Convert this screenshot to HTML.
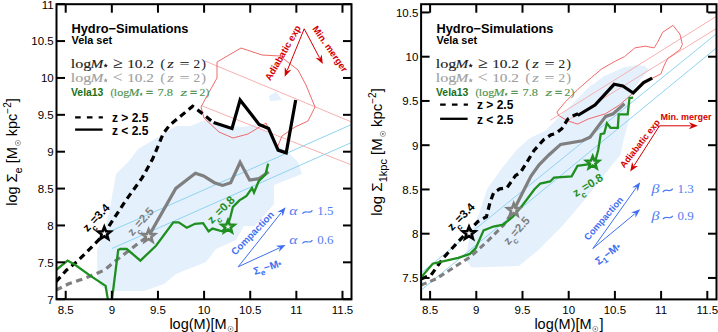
<!DOCTYPE html><html><head><meta charset="utf-8"><style>html,body{margin:0;padding:0;background:#fff;width:718px;height:332px;overflow:hidden}svg{display:block}</style></head><body><svg width="718" height="332" viewBox="0 0 718 332">
<rect width="718" height="332" fill="#fff"/>
<defs><clipPath id="cl"><rect x="56.5" y="4.2" width="295.0" height="295.1"/></clipPath><clipPath id="cr"><rect x="421.1" y="4.2" width="295.4" height="295.2"/></clipPath></defs>
<g clip-path="url(#cl)">
<polygon points="97.1,251.0 101.4,238.4 106.0,225.0 110.0,208.0 116.0,174.0 129.0,161.0 138.0,149.0 155.0,139.0 176.0,126.0 190.0,126.0 206.0,120.0 225.0,126.0 244.0,127.0 255.0,124.0 260.0,127.0 271.0,135.0 279.0,146.0 290.0,154.0 298.0,162.0 302.0,174.0 274.0,185.0 274.0,204.0 255.0,226.0 244.0,226.0 236.0,240.0 216.0,249.0 206.0,262.0 186.0,270.0 176.0,274.0 164.0,284.0 144.0,291.0 121.0,291.0 108.7,291.2 99.2,284.9 97.1,272.2" fill="#e4f0fc" stroke="none" stroke-width="1" />
<polygon points="269.0,96.0 276.0,92.0 282.0,100.0 270.0,101.0" fill="#e4f0fc" stroke="none" stroke-width="1" />
<line x1="205" y1="61" x2="352" y2="122.2" stroke="#f7b0b0" stroke-width="1"/>
<line x1="201" y1="105.5" x2="352" y2="165.2" stroke="#f7b0b0" stroke-width="1"/>
<line x1="111" y1="231" x2="352" y2="124.3" stroke="#8fd3f0" stroke-width="1"/>
<line x1="112" y1="248.5" x2="352" y2="142.3" stroke="#8fd3f0" stroke-width="1"/>
<polygon points="217.0,62.0 241.0,48.0 262.0,55.0 280.0,56.0 298.0,70.0 306.0,85.0 315.0,107.0 308.0,121.0 295.0,127.0 282.0,136.0 277.0,148.0 266.0,123.0 248.0,134.0 233.0,138.0 219.0,132.0 204.0,118.0 201.0,107.0 208.0,94.0 217.0,78.0" fill="none" stroke="#f06a6a" stroke-width="1" />
<polyline points="56.0,281.7 66.5,270.1 77.1,261.6 87.6,251.1 98.2,240.5 104.5,233.0 125.3,201.1 142.1,177.9 152.6,159.0 163.2,133.7 169.5,125.3 192.6,106.3 201.1,112.6 213.6,122.6" fill="none" stroke="#000" stroke-width="3.2" stroke-linejoin="miter" stroke-miterlimit="3" stroke-dasharray="6.5,4.5" />
<polyline points="213.6,122.6 232.0,128.5 240.1,100.0 259.1,124.4 268.6,128.5 278.1,150.1 286.2,152.8 295.7,100.0" fill="none" stroke="#000" stroke-width="3.2" stroke-linejoin="miter" stroke-miterlimit="3" />
<polyline points="56.0,290.1 68.7,283.8 81.3,279.6 91.9,275.4 104.5,270.1 117.2,259.5 129.8,250.0 140.4,241.6 148.6,236.2" fill="none" stroke="#7f7f7f" stroke-width="3.2" stroke-linejoin="miter" stroke-miterlimit="3" stroke-dasharray="6.5,4.5" />
<polyline points="148.6,236.2 175.8,188.4 195.4,173.2 203.6,175.9 214.4,182.7 222.5,185.4 230.7,182.7 240.1,162.3 249.6,180.0 259.1,178.6 268.6,171.8" fill="none" stroke="#7f7f7f" stroke-width="3.2" stroke-linejoin="miter" stroke-miterlimit="3" />
<polyline points="56.0,270.1 67.6,260.6 75.0,264.8 89.8,275.4 105.6,285.9 110.0,312.0 111.9,300.0 118.2,250.0 120.3,249.0 126.7,249.0 140.4,260.6 156.0,245.8 173.3,222.4 178.7,222.4 186.8,227.8 195.0,223.8 203.1,223.2 208.6,231.3 212.6,228.6 222.1,231.3 227.5,225.9 230.2,217.8 232.9,206.9 239.7,200.1 242.5,198.5 246.5,196.0 252.0,188.0 254.0,192.5 258.7,181.2 265.5,174.4 268.2,163.6" fill="none" stroke="#1f8f1f" stroke-width="2.3" stroke-linejoin="miter" stroke-miterlimit="3" />
<polygon points="104.3,226.9 106.0,231.2 110.6,231.5 107.0,234.4 108.2,238.8 104.3,236.3 100.4,238.8 101.6,234.4 98.0,231.5 102.6,231.2" fill="white" stroke="#000" stroke-width="2.6" stroke-linejoin="miter" stroke-miterlimit="10"/>
<polygon points="148.6,229.6 150.3,233.9 154.9,234.2 151.3,237.1 152.5,241.5 148.6,239.0 144.7,241.5 145.9,237.1 142.3,234.2 146.9,233.9" fill="#eee" stroke="#7f7f7f" stroke-width="2.6" stroke-linejoin="miter" stroke-miterlimit="10"/>
<polygon points="228.0,220.2 229.7,224.5 234.3,224.8 230.7,227.7 231.9,232.1 228.0,229.6 224.1,232.1 225.3,227.7 221.7,224.8 226.3,224.5" fill="#eef" stroke="#1f8f1f" stroke-width="2.6" stroke-linejoin="miter" stroke-miterlimit="10"/>
</g>
<text x="71.5" y="32.6" font-family="Liberation Sans" font-size="12.8" fill="#000" font-weight="bold" font-style="normal" text-anchor="start" >Hydro&#8722;Simulations</text>
<text x="71.5" y="43.9" font-family="Liberation Sans" font-size="10.9" fill="#000" font-weight="bold" font-style="normal" text-anchor="start" >Vela set</text>
<text x="70.8" y="67.5" font-family="Liberation Serif" font-size="13.2" fill="#222" font-style="normal" font-weight="normal" textLength="20.6" lengthAdjust="spacingAndGlyphs" stroke="#222" stroke-width="0.12">log</text>
<text x="90.6" y="67.5" font-family="Liberation Serif" font-size="13.2" fill="#222" font-style="italic" font-weight="normal" textLength="12.8" lengthAdjust="spacingAndGlyphs" stroke="#222" stroke-width="0.12">M</text>
<polygon points="105.7,63.3 106.3,64.8 108.0,65.0 106.7,66.0 107.1,67.6 105.7,66.8 104.3,67.6 104.7,66.0 103.4,65.0 105.1,64.8" fill="#222" stroke="none" stroke-width="1" />
<text x="112.8" y="67.5" font-family="Liberation Serif" font-size="15.179999999999998" fill="#222" font-style="normal" font-weight="normal" textLength="9.8" lengthAdjust="spacingAndGlyphs" stroke="#222" stroke-width="0.072">&#8805;</text>
<text x="127.2" y="67.5" font-family="Liberation Serif" font-size="13.2" fill="#222" font-style="normal" font-weight="normal" textLength="26.8" lengthAdjust="spacingAndGlyphs" stroke="#222" stroke-width="0.12">10.2</text>
<text x="160.6" y="67.5" font-family="Liberation Serif" font-size="13.2" fill="#222" font-style="normal" font-weight="normal" stroke="#222" stroke-width="0.12">(</text>
<text x="167.2" y="67.5" font-family="Liberation Serif" font-size="13.2" fill="#222" font-style="italic" font-weight="normal" textLength="6.6" lengthAdjust="spacingAndGlyphs" stroke="#222" stroke-width="0.12">z</text>
<text x="179.6" y="67.5" font-family="Liberation Serif" font-size="13.2" fill="#222" font-style="normal" font-weight="normal" textLength="10.0" lengthAdjust="spacingAndGlyphs" stroke="#222" stroke-width="0.12">=</text>
<text x="193.4" y="67.5" font-family="Liberation Serif" font-size="13.2" fill="#222" font-style="normal" font-weight="normal" textLength="6.6" lengthAdjust="spacingAndGlyphs" stroke="#222" stroke-width="0.12">2</text>
<text x="201.4" y="67.5" font-family="Liberation Serif" font-size="13.2" fill="#222" font-style="normal" font-weight="normal" stroke="#222" stroke-width="0.12">)</text>
<text x="70.8" y="82.3" font-family="Liberation Serif" font-size="13.2" fill="#a0a0a0" font-style="normal" font-weight="normal" textLength="20.6" lengthAdjust="spacingAndGlyphs" stroke="#a0a0a0" stroke-width="0.12">log</text>
<text x="90.6" y="82.3" font-family="Liberation Serif" font-size="13.2" fill="#a0a0a0" font-style="italic" font-weight="normal" textLength="12.8" lengthAdjust="spacingAndGlyphs" stroke="#a0a0a0" stroke-width="0.12">M</text>
<polygon points="105.7,78.1 106.3,79.6 108.0,79.8 106.7,80.8 107.1,82.4 105.7,81.6 104.3,82.4 104.7,80.8 103.4,79.8 105.1,79.6" fill="#a0a0a0" stroke="none" stroke-width="1" />
<text x="112.8" y="82.3" font-family="Liberation Serif" font-size="15.179999999999998" fill="#a0a0a0" font-style="normal" font-weight="normal" textLength="9.8" lengthAdjust="spacingAndGlyphs" stroke="#a0a0a0" stroke-width="0.072">&lt;</text>
<text x="127.2" y="82.3" font-family="Liberation Serif" font-size="13.2" fill="#a0a0a0" font-style="normal" font-weight="normal" textLength="26.8" lengthAdjust="spacingAndGlyphs" stroke="#a0a0a0" stroke-width="0.12">10.2</text>
<text x="160.6" y="82.3" font-family="Liberation Serif" font-size="13.2" fill="#a0a0a0" font-style="normal" font-weight="normal" stroke="#a0a0a0" stroke-width="0.12">(</text>
<text x="167.2" y="82.3" font-family="Liberation Serif" font-size="13.2" fill="#a0a0a0" font-style="italic" font-weight="normal" textLength="6.6" lengthAdjust="spacingAndGlyphs" stroke="#a0a0a0" stroke-width="0.12">z</text>
<text x="179.6" y="82.3" font-family="Liberation Serif" font-size="13.2" fill="#a0a0a0" font-style="normal" font-weight="normal" textLength="10.0" lengthAdjust="spacingAndGlyphs" stroke="#a0a0a0" stroke-width="0.12">=</text>
<text x="193.4" y="82.3" font-family="Liberation Serif" font-size="13.2" fill="#a0a0a0" font-style="normal" font-weight="normal" textLength="6.6" lengthAdjust="spacingAndGlyphs" stroke="#a0a0a0" stroke-width="0.12">2</text>
<text x="201.4" y="82.3" font-family="Liberation Serif" font-size="13.2" fill="#a0a0a0" font-style="normal" font-weight="normal" stroke="#a0a0a0" stroke-width="0.12">)</text>
<text x="71.0" y="95.9" font-family="Liberation Sans" font-size="10.4" fill="#1a701a" font-style="normal" font-weight="bold">Vela13</text>
<text x="110.6" y="95.9" font-family="Liberation Serif" font-size="10.6" fill="#4f934f" font-style="normal" font-weight="normal" stroke="#4f934f" stroke-width="0.15">(</text>
<text x="113.8" y="95.9" font-family="Liberation Serif" font-size="10.6" fill="#4f934f" font-style="normal" font-weight="normal" textLength="15.4" lengthAdjust="spacingAndGlyphs" stroke="#4f934f" stroke-width="0.15">log</text>
<text x="128.4" y="95.9" font-family="Liberation Serif" font-size="10.6" fill="#4f934f" font-style="italic" font-weight="normal" textLength="11.0" lengthAdjust="spacingAndGlyphs" stroke="#4f934f" stroke-width="0.15">M</text>
<polygon points="141.2,92.4 141.7,93.6 143.0,93.7 142.0,94.6 142.3,95.8 141.2,95.2 140.1,95.8 140.4,94.6 139.4,93.7 140.7,93.6" fill="#4f934f" stroke="none" stroke-width="1" />
<text x="146.0" y="95.9" font-family="Liberation Serif" font-size="10.6" fill="#4f934f" font-style="normal" font-weight="normal" textLength="7.0" lengthAdjust="spacingAndGlyphs" stroke="#4f934f" stroke-width="0.6">=</text>
<text x="157.6" y="95.9" font-family="Liberation Serif" font-size="10.6" fill="#4f934f" font-style="normal" font-weight="normal" textLength="15.4" lengthAdjust="spacingAndGlyphs" stroke="#4f934f" stroke-width="0.15">7.8</text>
<text x="180.6" y="95.9" font-family="Liberation Serif" font-size="10.6" fill="#4f934f" font-style="italic" font-weight="normal" textLength="6.8" lengthAdjust="spacingAndGlyphs" stroke="#4f934f" stroke-width="0.15">z</text>
<text x="189.9" y="95.9" font-family="Liberation Serif" font-size="10.6" fill="#4f934f" font-style="normal" font-weight="normal" textLength="7.0" lengthAdjust="spacingAndGlyphs" stroke="#4f934f" stroke-width="0.6">=</text>
<text x="199.4" y="95.9" font-family="Liberation Serif" font-size="10.6" fill="#4f934f" font-style="normal" font-weight="normal" textLength="5.8" lengthAdjust="spacingAndGlyphs" stroke="#4f934f" stroke-width="0.15">2</text>
<text x="205.8" y="95.9" font-family="Liberation Serif" font-size="10.6" fill="#4f934f" font-style="normal" font-weight="normal" stroke="#4f934f" stroke-width="0.15">)</text>
<line x1="75.1" y1="117.4" x2="102.9" y2="117.4" stroke="#000" stroke-width="2.3" stroke-dasharray="5.6,6.2"/>
<line x1="75.1" y1="129.6" x2="102.6" y2="129.6" stroke="#000" stroke-width="2.3"/>
<text x="112" y="122.2" font-family="Liberation Sans" font-size="12" fill="#000" font-weight="bold" font-style="normal" text-anchor="start" >z &gt; 2.5</text>
<text x="112" y="134.5" font-family="Liberation Sans" font-size="12" fill="#000" font-weight="bold" font-style="normal" text-anchor="start" >z &lt; 2.5</text>
<line x1="304.2" y1="28.8" x2="287.3" y2="70.3" stroke="#d40000" stroke-width="1"/>
<polygon points="284.7,76.8 284.8,67.1 287.1,71.0 291.3,69.8" fill="#d40000" stroke="none" stroke-width="1" />
<line x1="304.2" y1="28.8" x2="319.5" y2="57.8" stroke="#d40000" stroke-width="1"/>
<polygon points="322.8,64.0 315.5,57.7 319.9,58.4 321.7,54.4" fill="#d40000" stroke="none" stroke-width="1" />
<text x="285.8" y="54.5" font-family="Liberation Sans" font-size="9.5" fill="#d40000" font-weight="bold" font-style="normal" text-anchor="middle" transform="rotate(-60 285.8 54.5)" >Adiabatic exp</text>
<text x="327.5" y="50.8" font-family="Liberation Sans" font-size="9.5" fill="#d40000" font-weight="bold" font-style="normal" text-anchor="middle" transform="rotate(55 327.5 50.8)" >Min. merger</text>
<line x1="238.2" y1="266.8" x2="279.2" y2="248.0" stroke="#3f6ff0" stroke-width="1"/>
<polygon points="285.6,245.1 278.9,252.0 279.9,247.7 276.0,245.7" fill="#3f6ff0" stroke="none" stroke-width="1" />
<line x1="238.2" y1="266.8" x2="281.2" y2="212.7" stroke="#3f6ff0" stroke-width="1"/>
<polygon points="285.6,207.2 282.7,216.4 281.7,212.1 277.3,212.1" fill="#3f6ff0" stroke="none" stroke-width="1" />
<text x="289.2" y="214.5" font-family="Liberation Serif" font-size="13.5" fill="#4f7cf2" font-style="normal" font-weight="normal" textLength="8.2" lengthAdjust="spacingAndGlyphs"><tspan font-style="italic">&#945;</tspan></text>
<path d="M302.4,213.7 C305.73,208.60 309.07,215.40 312.4,210.3" fill="none" stroke="#4f7cf2" stroke-width="1.2"/>
<text x="317.2" y="214.5" font-family="Liberation Serif" font-size="13" fill="#4f7cf2" font-style="normal" font-weight="normal" textLength="16.2" lengthAdjust="spacingAndGlyphs">1.5</text>
<text x="289.2" y="244.3" font-family="Liberation Serif" font-size="13.5" fill="#4f7cf2" font-style="normal" font-weight="normal" textLength="8.2" lengthAdjust="spacingAndGlyphs"><tspan font-style="italic">&#945;</tspan></text>
<path d="M302.4,243.5 C305.73,238.40 309.07,245.20 312.4,240.10000000000002" fill="none" stroke="#4f7cf2" stroke-width="1.2"/>
<text x="317.2" y="244.3" font-family="Liberation Serif" font-size="13" fill="#4f7cf2" font-style="normal" font-weight="normal" textLength="16.2" lengthAdjust="spacingAndGlyphs">0.6</text>
<text x="255" y="235.5" font-family="Liberation Sans" font-size="9.8" fill="#3f6ff0" font-weight="bold" font-style="normal" text-anchor="middle" transform="rotate(-46 255 235.5)" >Compaction</text>
<text x="268.5" y="270.5" font-family="Liberation Sans" font-size="10.5" fill="#3f6ff0" font-weight="bold" font-style="normal" text-anchor="middle" transform="rotate(-18 268.5 270.5)" >&#931;<tspan font-size="8" dy="3">e</tspan><tspan dy="-3">&#8722;M</tspan><tspan font-size="8" dy="1">*</tspan></text>
<g transform="translate(87.4,232.3) rotate(-46)"><text x="0" y="0" font-family="Liberation Sans" font-size="11.5" font-weight="bold" fill="#000">z<tspan font-size="8.5" dy="5">c</tspan><tspan dy="-5">=3.4</tspan></text></g>
<g transform="translate(132.4,236.4) rotate(-48)"><text x="0" y="0" font-family="Liberation Sans" font-size="11.5" font-weight="bold" fill="#7f7f7f">z<tspan font-size="8.5" dy="5">c</tspan><tspan dy="-5">=2.5</tspan></text></g>
<g transform="translate(212,224.2) rotate(-45)"><text x="0" y="0" font-family="Liberation Sans" font-size="11.5" font-weight="bold" fill="#1f8f1f">z<tspan font-size="8.5" dy="5">c</tspan><tspan dy="-5">=0.8</tspan></text></g>
<g clip-path="url(#cr)">
<polygon points="545.0,131.0 561.0,115.0 575.0,101.5 588.0,88.0 604.6,75.7 623.6,67.6 637.0,65.0 645.0,66.0 649.0,70.0 640.0,80.0 630.0,95.0 629.0,104.0 629.0,120.0 623.6,140.0 620.5,154.7 612.0,165.0 601.0,179.6 585.3,199.1 561.8,226.5 538.4,250.0 518.8,266.0 471.5,267.4 465.6,259.5 469.6,236.1 479.3,212.6 487.2,189.1 500.9,169.6 516.5,150.0 530.0,138.0" fill="#e4f0fc" stroke="none" stroke-width="1" />
<line x1="550.2" y1="120.3" x2="718" y2="15.3" stroke="#f7b0b0" stroke-width="1"/>
<line x1="568.9" y1="119.7" x2="718" y2="27.5" stroke="#f7b0b0" stroke-width="1"/>
<line x1="421" y1="273.1" x2="718" y2="32.5" stroke="#8fd3f0" stroke-width="1"/>
<line x1="421" y1="290.2" x2="718" y2="46.6" stroke="#8fd3f0" stroke-width="1"/>
<polygon points="556.9,112.0 565.6,101.6 577.7,89.5 591.6,77.4 602.0,68.7 614.1,61.8 624.5,56.6 634.9,47.9 645.3,46.2 654.0,47.9 657.4,42.7 662.6,32.3 673.0,25.4 679.9,34.1 682.4,44.5 679.9,49.7 673.0,54.8 667.8,58.3 664.3,65.2 660.9,73.9 654.0,77.4 650.5,79.1 643.6,82.6 633.2,93.0 619.3,105.1 605.4,113.8 588.1,119.0 577.7,124.1 567.3,120.7 558.7,115.5" fill="none" stroke="#f06a6a" stroke-width="1" />
<polyline points="421.0,278.9 431.0,275.1 443.6,257.6 458.6,241.3 467.2,232.3 478.1,221.4 486.5,216.6 490.1,202.2 493.7,192.5 499.8,188.9 507.0,187.7 515.4,175.7 520.8,172.1 534.1,150.4 543.7,139.6 551.0,134.8 555.8,133.6 561.8,128.7 567.8,119.1 573.9,115.5 578.1,113.8" fill="none" stroke="#000" stroke-width="3.2" stroke-linejoin="miter" stroke-miterlimit="3" stroke-dasharray="6.5,4.5" />
<polyline points="577.7,115.5 595.0,105.1 614.1,84.3 622.8,86.0 633.2,93.0 643.6,82.6 652.2,78.1" fill="none" stroke="#000" stroke-width="3.2" stroke-linejoin="miter" stroke-miterlimit="3" />
<polyline points="421.0,285.2 436.0,278.9 453.6,267.6 471.1,256.3 488.7,240.0 503.7,225.0 513.7,210.2" fill="none" stroke="#7f7f7f" stroke-width="3" stroke-linejoin="miter" stroke-miterlimit="3" stroke-dasharray="6,4" />
<polyline points="513.7,210.2 531.0,176.1 538.9,165.0 548.6,155.2 560.6,144.4 582.3,140.8 590.0,137.2 605.7,116.4 613.2,113.8 624.5,103.8" fill="none" stroke="#7f7f7f" stroke-width="3.2" stroke-linejoin="miter" stroke-miterlimit="3" />
<polyline points="421.0,277.4 432.7,263.7 458.2,257.8 469.9,253.9 475.8,248.0 483.6,230.4 493.4,226.5 503.2,224.6 512.9,216.7 522.7,205.0 534.5,189.3 540.3,183.5 550.1,181.5 554.0,177.6 571.6,176.4 577.5,165.9 591.2,163.9 592.7,163.3 595.6,160.0 598.2,150.0 600.7,134.2 604.2,133.3 606.9,123.3 610.5,127.8 617.8,127.8 618.7,114.3 627.7,114.3 629.5,98.0 633.1,97.7" fill="none" stroke="#1f8f1f" stroke-width="2.3" stroke-linejoin="miter" stroke-miterlimit="3" />
<polygon points="469.0,226.7 470.7,231.0 475.3,231.3 471.7,234.2 472.9,238.6 469.0,236.1 465.1,238.6 466.3,234.2 462.7,231.3 467.3,231.0" fill="white" stroke="#000" stroke-width="2.6" stroke-linejoin="miter" stroke-miterlimit="10"/>
<polygon points="513.7,203.6 515.4,207.9 520.0,208.2 516.4,211.1 517.6,215.5 513.7,213.0 509.8,215.5 511.0,211.1 507.4,208.2 512.0,207.9" fill="#eee" stroke="#7f7f7f" stroke-width="2.6" stroke-linejoin="miter" stroke-miterlimit="10"/>
<polygon points="592.7,156.2 594.4,160.5 599.0,160.8 595.4,163.7 596.6,168.1 592.7,165.6 588.8,168.1 590.0,163.7 586.4,160.8 591.0,160.5" fill="#eef" stroke="#1f8f1f" stroke-width="2.6" stroke-linejoin="miter" stroke-miterlimit="10"/>
</g>
<text x="436.5" y="32.6" font-family="Liberation Sans" font-size="12.8" fill="#000" font-weight="bold" font-style="normal" text-anchor="start" >Hydro&#8722;Simulations</text>
<text x="436.5" y="43.9" font-family="Liberation Sans" font-size="10.9" fill="#000" font-weight="bold" font-style="normal" text-anchor="start" >Vela set</text>
<text x="435.8" y="67.5" font-family="Liberation Serif" font-size="13.2" fill="#222" font-style="normal" font-weight="normal" textLength="20.6" lengthAdjust="spacingAndGlyphs" stroke="#222" stroke-width="0.12">log</text>
<text x="455.6" y="67.5" font-family="Liberation Serif" font-size="13.2" fill="#222" font-style="italic" font-weight="normal" textLength="12.8" lengthAdjust="spacingAndGlyphs" stroke="#222" stroke-width="0.12">M</text>
<polygon points="470.7,63.3 471.3,64.8 473.0,65.0 471.7,66.0 472.1,67.6 470.7,66.8 469.3,67.6 469.7,66.0 468.4,65.0 470.1,64.8" fill="#222" stroke="none" stroke-width="1" />
<text x="477.8" y="67.5" font-family="Liberation Serif" font-size="15.179999999999998" fill="#222" font-style="normal" font-weight="normal" textLength="9.8" lengthAdjust="spacingAndGlyphs" stroke="#222" stroke-width="0.072">&#8805;</text>
<text x="492.2" y="67.5" font-family="Liberation Serif" font-size="13.2" fill="#222" font-style="normal" font-weight="normal" textLength="26.8" lengthAdjust="spacingAndGlyphs" stroke="#222" stroke-width="0.12">10.2</text>
<text x="525.6" y="67.5" font-family="Liberation Serif" font-size="13.2" fill="#222" font-style="normal" font-weight="normal" stroke="#222" stroke-width="0.12">(</text>
<text x="532.2" y="67.5" font-family="Liberation Serif" font-size="13.2" fill="#222" font-style="italic" font-weight="normal" textLength="6.6" lengthAdjust="spacingAndGlyphs" stroke="#222" stroke-width="0.12">z</text>
<text x="544.6" y="67.5" font-family="Liberation Serif" font-size="13.2" fill="#222" font-style="normal" font-weight="normal" textLength="10.0" lengthAdjust="spacingAndGlyphs" stroke="#222" stroke-width="0.12">=</text>
<text x="558.4" y="67.5" font-family="Liberation Serif" font-size="13.2" fill="#222" font-style="normal" font-weight="normal" textLength="6.6" lengthAdjust="spacingAndGlyphs" stroke="#222" stroke-width="0.12">2</text>
<text x="566.4" y="67.5" font-family="Liberation Serif" font-size="13.2" fill="#222" font-style="normal" font-weight="normal" stroke="#222" stroke-width="0.12">)</text>
<text x="435.8" y="82.3" font-family="Liberation Serif" font-size="13.2" fill="#a0a0a0" font-style="normal" font-weight="normal" textLength="20.6" lengthAdjust="spacingAndGlyphs" stroke="#a0a0a0" stroke-width="0.12">log</text>
<text x="455.6" y="82.3" font-family="Liberation Serif" font-size="13.2" fill="#a0a0a0" font-style="italic" font-weight="normal" textLength="12.8" lengthAdjust="spacingAndGlyphs" stroke="#a0a0a0" stroke-width="0.12">M</text>
<polygon points="470.7,78.1 471.3,79.6 473.0,79.8 471.7,80.8 472.1,82.4 470.7,81.6 469.3,82.4 469.7,80.8 468.4,79.8 470.1,79.6" fill="#a0a0a0" stroke="none" stroke-width="1" />
<text x="477.8" y="82.3" font-family="Liberation Serif" font-size="15.179999999999998" fill="#a0a0a0" font-style="normal" font-weight="normal" textLength="9.8" lengthAdjust="spacingAndGlyphs" stroke="#a0a0a0" stroke-width="0.072">&lt;</text>
<text x="492.2" y="82.3" font-family="Liberation Serif" font-size="13.2" fill="#a0a0a0" font-style="normal" font-weight="normal" textLength="26.8" lengthAdjust="spacingAndGlyphs" stroke="#a0a0a0" stroke-width="0.12">10.2</text>
<text x="525.6" y="82.3" font-family="Liberation Serif" font-size="13.2" fill="#a0a0a0" font-style="normal" font-weight="normal" stroke="#a0a0a0" stroke-width="0.12">(</text>
<text x="532.2" y="82.3" font-family="Liberation Serif" font-size="13.2" fill="#a0a0a0" font-style="italic" font-weight="normal" textLength="6.6" lengthAdjust="spacingAndGlyphs" stroke="#a0a0a0" stroke-width="0.12">z</text>
<text x="544.6" y="82.3" font-family="Liberation Serif" font-size="13.2" fill="#a0a0a0" font-style="normal" font-weight="normal" textLength="10.0" lengthAdjust="spacingAndGlyphs" stroke="#a0a0a0" stroke-width="0.12">=</text>
<text x="558.4" y="82.3" font-family="Liberation Serif" font-size="13.2" fill="#a0a0a0" font-style="normal" font-weight="normal" textLength="6.6" lengthAdjust="spacingAndGlyphs" stroke="#a0a0a0" stroke-width="0.12">2</text>
<text x="566.4" y="82.3" font-family="Liberation Serif" font-size="13.2" fill="#a0a0a0" font-style="normal" font-weight="normal" stroke="#a0a0a0" stroke-width="0.12">)</text>
<text x="436.0" y="95.9" font-family="Liberation Sans" font-size="10.4" fill="#1a701a" font-style="normal" font-weight="bold">Vela13</text>
<text x="475.6" y="95.9" font-family="Liberation Serif" font-size="10.6" fill="#4f934f" font-style="normal" font-weight="normal" stroke="#4f934f" stroke-width="0.15">(</text>
<text x="478.8" y="95.9" font-family="Liberation Serif" font-size="10.6" fill="#4f934f" font-style="normal" font-weight="normal" textLength="15.4" lengthAdjust="spacingAndGlyphs" stroke="#4f934f" stroke-width="0.15">log</text>
<text x="493.4" y="95.9" font-family="Liberation Serif" font-size="10.6" fill="#4f934f" font-style="italic" font-weight="normal" textLength="11.0" lengthAdjust="spacingAndGlyphs" stroke="#4f934f" stroke-width="0.15">M</text>
<polygon points="506.2,92.4 506.7,93.6 508.0,93.7 507.0,94.6 507.3,95.8 506.2,95.2 505.1,95.8 505.4,94.6 504.4,93.7 505.7,93.6" fill="#4f934f" stroke="none" stroke-width="1" />
<text x="511.0" y="95.9" font-family="Liberation Serif" font-size="10.6" fill="#4f934f" font-style="normal" font-weight="normal" textLength="7.0" lengthAdjust="spacingAndGlyphs" stroke="#4f934f" stroke-width="0.6">=</text>
<text x="522.6" y="95.9" font-family="Liberation Serif" font-size="10.6" fill="#4f934f" font-style="normal" font-weight="normal" textLength="15.4" lengthAdjust="spacingAndGlyphs" stroke="#4f934f" stroke-width="0.15">7.8</text>
<text x="545.6" y="95.9" font-family="Liberation Serif" font-size="10.6" fill="#4f934f" font-style="italic" font-weight="normal" textLength="6.8" lengthAdjust="spacingAndGlyphs" stroke="#4f934f" stroke-width="0.15">z</text>
<text x="554.9" y="95.9" font-family="Liberation Serif" font-size="10.6" fill="#4f934f" font-style="normal" font-weight="normal" textLength="7.0" lengthAdjust="spacingAndGlyphs" stroke="#4f934f" stroke-width="0.6">=</text>
<text x="564.4" y="95.9" font-family="Liberation Serif" font-size="10.6" fill="#4f934f" font-style="normal" font-weight="normal" textLength="5.8" lengthAdjust="spacingAndGlyphs" stroke="#4f934f" stroke-width="0.15">2</text>
<text x="570.8" y="95.9" font-family="Liberation Serif" font-size="10.6" fill="#4f934f" font-style="normal" font-weight="normal" stroke="#4f934f" stroke-width="0.15">)</text>
<line x1="440.1" y1="104.6" x2="467.9" y2="104.6" stroke="#000" stroke-width="2.3" stroke-dasharray="5.6,6.2"/>
<line x1="440.1" y1="118.8" x2="467.6" y2="118.8" stroke="#000" stroke-width="2.3"/>
<text x="477" y="109.4" font-family="Liberation Sans" font-size="12" fill="#000" font-weight="bold" font-style="normal" text-anchor="start" >z &gt; 2.5</text>
<text x="477" y="123.6" font-family="Liberation Sans" font-size="12" fill="#000" font-weight="bold" font-style="normal" text-anchor="start" >z &lt; 2.5</text>
<line x1="659.5" y1="125.8" x2="690.9" y2="125.8" stroke="#d40000" stroke-width="1"/>
<polygon points="697.9,125.8 688.9,129.3 691.6,125.8 688.9,122.3" fill="#d40000" stroke="none" stroke-width="1" />
<line x1="659.5" y1="125.8" x2="634.0" y2="165.7" stroke="#d40000" stroke-width="1"/>
<polygon points="630.2,171.6 632.1,162.1 633.6,166.3 638.0,165.9" fill="#d40000" stroke="none" stroke-width="1" />
<text x="660.6" y="119.7" font-family="Liberation Sans" font-size="9" fill="#d40000" font-weight="bold" font-style="normal" text-anchor="start" >Min. merger</text>
<text x="642.4" y="145.4" font-family="Liberation Sans" font-size="9" fill="#d40000" font-weight="bold" font-style="normal" text-anchor="middle" transform="rotate(-52 642.4 145.4)" >Adiabatic exp</text>
<line x1="592.8" y1="248.6" x2="636.1" y2="187.9" stroke="#3f6ff0" stroke-width="1"/>
<polygon points="640.2,182.2 637.8,191.6 636.5,187.3 632.1,187.5" fill="#3f6ff0" stroke="none" stroke-width="1" />
<line x1="592.8" y1="248.6" x2="634.8" y2="213.8" stroke="#3f6ff0" stroke-width="1"/>
<polygon points="640.2,209.3 635.5,217.7 635.4,213.3 631.0,212.4" fill="#3f6ff0" stroke="none" stroke-width="1" />
<text x="651.6" y="193.0" font-family="Liberation Serif" font-size="12.5" fill="#4f7cf2" font-style="normal" font-weight="normal" textLength="8.0" lengthAdjust="spacingAndGlyphs"><tspan font-style="italic">&#946;</tspan></text>
<path d="M662.8,192.1 C666.13,187.00 669.47,193.80 672.8,188.70000000000002" fill="none" stroke="#4f7cf2" stroke-width="1.2"/>
<text x="677.6" y="193.0" font-family="Liberation Serif" font-size="13" fill="#4f7cf2" font-style="normal" font-weight="normal" textLength="16.2" lengthAdjust="spacingAndGlyphs">1.3</text>
<text x="651.6" y="220.1" font-family="Liberation Serif" font-size="12.5" fill="#4f7cf2" font-style="normal" font-weight="normal" textLength="8.0" lengthAdjust="spacingAndGlyphs"><tspan font-style="italic">&#946;</tspan></text>
<path d="M662.8,219.2 C666.13,214.10 669.47,220.90 672.8,215.8" fill="none" stroke="#4f7cf2" stroke-width="1.2"/>
<text x="677.6" y="220.1" font-family="Liberation Serif" font-size="13" fill="#4f7cf2" font-style="normal" font-weight="normal" textLength="16.2" lengthAdjust="spacingAndGlyphs">0.9</text>
<text x="606" y="220.5" font-family="Liberation Sans" font-size="9.4" fill="#3f6ff0" font-weight="bold" font-style="normal" text-anchor="middle" transform="rotate(-49 606 220.5)" >Compaction</text>
<text x="610" y="256.5" font-family="Liberation Sans" font-size="10.5" fill="#3f6ff0" font-weight="bold" font-style="normal" text-anchor="middle" transform="rotate(-37 610 256.5)" >&#931;<tspan font-size="8" dy="3">1</tspan><tspan dy="-3">&#8722;M</tspan><tspan font-size="8" dy="1">*</tspan></text>
<g transform="translate(452.1,231.2) rotate(-45)"><text x="0" y="0" font-family="Liberation Sans" font-size="11.5" font-weight="bold" fill="#000">z<tspan font-size="8.5" dy="5">c</tspan><tspan dy="-5">=3.4</tspan></text></g>
<g transform="translate(508.4,245.6) rotate(-48)"><text x="0" y="0" font-family="Liberation Sans" font-size="11.5" font-weight="bold" fill="#7f7f7f">z<tspan font-size="8.5" dy="5">c</tspan><tspan dy="-5">=2.5</tspan></text></g>
<g transform="translate(575.8,197.3) rotate(-32)"><text x="0" y="0" font-family="Liberation Sans" font-size="11.5" font-weight="bold" fill="#1f8f1f">z<tspan font-size="8.5" dy="5">c</tspan><tspan dy="-5">=0.8</tspan></text></g>
<rect x="56.5" y="4.2" width="295.0" height="295.1" fill="none" stroke="#000" stroke-width="2"/>
<line x1="65.7" y1="299.3" x2="65.7" y2="290.8" stroke="#000" stroke-width="2"/>
<line x1="65.7" y1="4.2" x2="65.7" y2="12.7" stroke="#000" stroke-width="2"/>
<line x1="111.83000000000001" y1="299.3" x2="111.83000000000001" y2="290.8" stroke="#000" stroke-width="2"/>
<line x1="111.83000000000001" y1="4.2" x2="111.83000000000001" y2="12.7" stroke="#000" stroke-width="2"/>
<line x1="157.96" y1="299.3" x2="157.96" y2="290.8" stroke="#000" stroke-width="2"/>
<line x1="157.96" y1="4.2" x2="157.96" y2="12.7" stroke="#000" stroke-width="2"/>
<line x1="204.09000000000003" y1="299.3" x2="204.09000000000003" y2="290.8" stroke="#000" stroke-width="2"/>
<line x1="204.09000000000003" y1="4.2" x2="204.09000000000003" y2="12.7" stroke="#000" stroke-width="2"/>
<line x1="250.22000000000003" y1="299.3" x2="250.22000000000003" y2="290.8" stroke="#000" stroke-width="2"/>
<line x1="250.22000000000003" y1="4.2" x2="250.22000000000003" y2="12.7" stroke="#000" stroke-width="2"/>
<line x1="296.35" y1="299.3" x2="296.35" y2="290.8" stroke="#000" stroke-width="2"/>
<line x1="296.35" y1="4.2" x2="296.35" y2="12.7" stroke="#000" stroke-width="2"/>
<line x1="342.48" y1="299.3" x2="342.48" y2="290.8" stroke="#000" stroke-width="2"/>
<line x1="342.48" y1="4.2" x2="342.48" y2="12.7" stroke="#000" stroke-width="2"/>
<line x1="56.5" y1="299.2" x2="65.0" y2="299.2" stroke="#000" stroke-width="2"/>
<line x1="351.5" y1="299.2" x2="343.0" y2="299.2" stroke="#000" stroke-width="2"/>
<line x1="56.5" y1="262.325" x2="65.0" y2="262.325" stroke="#000" stroke-width="2"/>
<line x1="351.5" y1="262.325" x2="343.0" y2="262.325" stroke="#000" stroke-width="2"/>
<line x1="56.5" y1="225.45" x2="65.0" y2="225.45" stroke="#000" stroke-width="2"/>
<line x1="351.5" y1="225.45" x2="343.0" y2="225.45" stroke="#000" stroke-width="2"/>
<line x1="56.5" y1="188.575" x2="65.0" y2="188.575" stroke="#000" stroke-width="2"/>
<line x1="351.5" y1="188.575" x2="343.0" y2="188.575" stroke="#000" stroke-width="2"/>
<line x1="56.5" y1="151.7" x2="65.0" y2="151.7" stroke="#000" stroke-width="2"/>
<line x1="351.5" y1="151.7" x2="343.0" y2="151.7" stroke="#000" stroke-width="2"/>
<line x1="56.5" y1="114.82499999999999" x2="65.0" y2="114.82499999999999" stroke="#000" stroke-width="2"/>
<line x1="351.5" y1="114.82499999999999" x2="343.0" y2="114.82499999999999" stroke="#000" stroke-width="2"/>
<line x1="56.5" y1="77.94999999999999" x2="65.0" y2="77.94999999999999" stroke="#000" stroke-width="2"/>
<line x1="351.5" y1="77.94999999999999" x2="343.0" y2="77.94999999999999" stroke="#000" stroke-width="2"/>
<line x1="56.5" y1="41.07499999999999" x2="65.0" y2="41.07499999999999" stroke="#000" stroke-width="2"/>
<line x1="351.5" y1="41.07499999999999" x2="343.0" y2="41.07499999999999" stroke="#000" stroke-width="2"/>
<line x1="56.5" y1="4.199999999999989" x2="65.0" y2="4.199999999999989" stroke="#000" stroke-width="2"/>
<line x1="351.5" y1="4.199999999999989" x2="343.0" y2="4.199999999999989" stroke="#000" stroke-width="2"/>
<text x="65.7" y="313.6" font-family="Liberation Sans" font-size="11.5" fill="#000" font-weight="normal" font-style="normal" text-anchor="middle" >8.5</text>
<text x="111.83000000000001" y="313.6" font-family="Liberation Sans" font-size="11.5" fill="#000" font-weight="normal" font-style="normal" text-anchor="middle" >9</text>
<text x="157.96" y="313.6" font-family="Liberation Sans" font-size="11.5" fill="#000" font-weight="normal" font-style="normal" text-anchor="middle" >9.5</text>
<text x="204.09000000000003" y="313.6" font-family="Liberation Sans" font-size="11.5" fill="#000" font-weight="normal" font-style="normal" text-anchor="middle" >10</text>
<text x="250.22000000000003" y="313.6" font-family="Liberation Sans" font-size="11.5" fill="#000" font-weight="normal" font-style="normal" text-anchor="middle" >10.5</text>
<text x="296.35" y="313.6" font-family="Liberation Sans" font-size="11.5" fill="#000" font-weight="normal" font-style="normal" text-anchor="middle" >11</text>
<text x="342.48" y="313.6" font-family="Liberation Sans" font-size="11.5" fill="#000" font-weight="normal" font-style="normal" text-anchor="middle" >11.5</text>
<text x="53.7" y="303.59999999999997" font-family="Liberation Sans" font-size="11.5" fill="#000" font-weight="normal" font-style="normal" text-anchor="end" >7</text>
<text x="53.7" y="266.72499999999997" font-family="Liberation Sans" font-size="11.5" fill="#000" font-weight="normal" font-style="normal" text-anchor="end" >7.5</text>
<text x="53.7" y="229.85" font-family="Liberation Sans" font-size="11.5" fill="#000" font-weight="normal" font-style="normal" text-anchor="end" >8</text>
<text x="53.7" y="192.975" font-family="Liberation Sans" font-size="11.5" fill="#000" font-weight="normal" font-style="normal" text-anchor="end" >8.5</text>
<text x="53.7" y="156.1" font-family="Liberation Sans" font-size="11.5" fill="#000" font-weight="normal" font-style="normal" text-anchor="end" >9</text>
<text x="53.7" y="119.225" font-family="Liberation Sans" font-size="11.5" fill="#000" font-weight="normal" font-style="normal" text-anchor="end" >9.5</text>
<text x="53.7" y="82.35" font-family="Liberation Sans" font-size="11.5" fill="#000" font-weight="normal" font-style="normal" text-anchor="end" >10</text>
<text x="53.7" y="45.47499999999999" font-family="Liberation Sans" font-size="11.5" fill="#000" font-weight="normal" font-style="normal" text-anchor="end" >10.5</text>
<text x="53.7" y="8.599999999999989" font-family="Liberation Sans" font-size="11.5" fill="#000" font-weight="normal" font-style="normal" text-anchor="end" >11</text>
<rect x="421.1" y="4.2" width="295.4" height="295.2" fill="none" stroke="#000" stroke-width="2"/>
<line x1="430.1" y1="299.4" x2="430.1" y2="290.9" stroke="#000" stroke-width="2"/>
<line x1="430.1" y1="4.2" x2="430.1" y2="12.7" stroke="#000" stroke-width="2"/>
<line x1="476.3" y1="299.4" x2="476.3" y2="290.9" stroke="#000" stroke-width="2"/>
<line x1="476.3" y1="4.2" x2="476.3" y2="12.7" stroke="#000" stroke-width="2"/>
<line x1="522.5" y1="299.4" x2="522.5" y2="290.9" stroke="#000" stroke-width="2"/>
<line x1="522.5" y1="4.2" x2="522.5" y2="12.7" stroke="#000" stroke-width="2"/>
<line x1="568.7" y1="299.4" x2="568.7" y2="290.9" stroke="#000" stroke-width="2"/>
<line x1="568.7" y1="4.2" x2="568.7" y2="12.7" stroke="#000" stroke-width="2"/>
<line x1="614.9000000000001" y1="299.4" x2="614.9000000000001" y2="290.9" stroke="#000" stroke-width="2"/>
<line x1="614.9000000000001" y1="4.2" x2="614.9000000000001" y2="12.7" stroke="#000" stroke-width="2"/>
<line x1="661.1" y1="299.4" x2="661.1" y2="290.9" stroke="#000" stroke-width="2"/>
<line x1="661.1" y1="4.2" x2="661.1" y2="12.7" stroke="#000" stroke-width="2"/>
<line x1="707.3000000000001" y1="299.4" x2="707.3000000000001" y2="290.9" stroke="#000" stroke-width="2"/>
<line x1="707.3000000000001" y1="4.2" x2="707.3000000000001" y2="12.7" stroke="#000" stroke-width="2"/>
<line x1="421.1" y1="277.95" x2="429.6" y2="277.95" stroke="#000" stroke-width="2"/>
<line x1="716.5" y1="277.95" x2="708.0" y2="277.95" stroke="#000" stroke-width="2"/>
<line x1="421.1" y1="233.7" x2="429.6" y2="233.7" stroke="#000" stroke-width="2"/>
<line x1="716.5" y1="233.7" x2="708.0" y2="233.7" stroke="#000" stroke-width="2"/>
<line x1="421.1" y1="189.45" x2="429.6" y2="189.45" stroke="#000" stroke-width="2"/>
<line x1="716.5" y1="189.45" x2="708.0" y2="189.45" stroke="#000" stroke-width="2"/>
<line x1="421.1" y1="145.2" x2="429.6" y2="145.2" stroke="#000" stroke-width="2"/>
<line x1="716.5" y1="145.2" x2="708.0" y2="145.2" stroke="#000" stroke-width="2"/>
<line x1="421.1" y1="100.94999999999999" x2="429.6" y2="100.94999999999999" stroke="#000" stroke-width="2"/>
<line x1="716.5" y1="100.94999999999999" x2="708.0" y2="100.94999999999999" stroke="#000" stroke-width="2"/>
<line x1="421.1" y1="56.69999999999999" x2="429.6" y2="56.69999999999999" stroke="#000" stroke-width="2"/>
<line x1="716.5" y1="56.69999999999999" x2="708.0" y2="56.69999999999999" stroke="#000" stroke-width="2"/>
<line x1="421.1" y1="12.449999999999989" x2="429.6" y2="12.449999999999989" stroke="#000" stroke-width="2"/>
<line x1="716.5" y1="12.449999999999989" x2="708.0" y2="12.449999999999989" stroke="#000" stroke-width="2"/>
<text x="430.1" y="313.6" font-family="Liberation Sans" font-size="11.5" fill="#000" font-weight="normal" font-style="normal" text-anchor="middle" >8.5</text>
<text x="476.3" y="313.6" font-family="Liberation Sans" font-size="11.5" fill="#000" font-weight="normal" font-style="normal" text-anchor="middle" >9</text>
<text x="522.5" y="313.6" font-family="Liberation Sans" font-size="11.5" fill="#000" font-weight="normal" font-style="normal" text-anchor="middle" >9.5</text>
<text x="568.7" y="313.6" font-family="Liberation Sans" font-size="11.5" fill="#000" font-weight="normal" font-style="normal" text-anchor="middle" >10</text>
<text x="614.9000000000001" y="313.6" font-family="Liberation Sans" font-size="11.5" fill="#000" font-weight="normal" font-style="normal" text-anchor="middle" >10.5</text>
<text x="661.1" y="313.6" font-family="Liberation Sans" font-size="11.5" fill="#000" font-weight="normal" font-style="normal" text-anchor="middle" >11</text>
<text x="707.3000000000001" y="313.6" font-family="Liberation Sans" font-size="11.5" fill="#000" font-weight="normal" font-style="normal" text-anchor="middle" >11.5</text>
<text x="418.3" y="282.34999999999997" font-family="Liberation Sans" font-size="11.5" fill="#000" font-weight="normal" font-style="normal" text-anchor="end" >7.5</text>
<text x="418.3" y="238.1" font-family="Liberation Sans" font-size="11.5" fill="#000" font-weight="normal" font-style="normal" text-anchor="end" >8</text>
<text x="418.3" y="193.85" font-family="Liberation Sans" font-size="11.5" fill="#000" font-weight="normal" font-style="normal" text-anchor="end" >8.5</text>
<text x="418.3" y="149.6" font-family="Liberation Sans" font-size="11.5" fill="#000" font-weight="normal" font-style="normal" text-anchor="end" >9</text>
<text x="418.3" y="105.35" font-family="Liberation Sans" font-size="11.5" fill="#000" font-weight="normal" font-style="normal" text-anchor="end" >9.5</text>
<text x="418.3" y="61.09999999999999" font-family="Liberation Sans" font-size="11.5" fill="#000" font-weight="normal" font-style="normal" text-anchor="end" >10</text>
<text x="418.3" y="16.849999999999987" font-family="Liberation Sans" font-size="11.5" fill="#000" font-weight="normal" font-style="normal" text-anchor="end" >10.5</text>
<text x="204" y="329" font-family="Liberation Sans" font-size="14.5" fill="#000" font-weight="normal" font-style="normal" text-anchor="middle" >log(M)[M<tspan dx="8">]</tspan></text>
<text x="569" y="329" font-family="Liberation Sans" font-size="14.5" fill="#000" font-weight="normal" font-style="normal" text-anchor="middle" >log(M)[M<tspan dx="8">]</tspan></text>
<text x="17" y="152" font-family="Liberation Sans" font-size="14.5" fill="#000" font-weight="normal" font-style="normal" text-anchor="middle" transform="rotate(-90 17 152)" >log &#931;<tspan font-size="11" dy="5">e</tspan><tspan dy="-5"> [M</tspan><tspan dx="7"> kpc</tspan><tspan font-size="10" dy="-6">&#8722;2</tspan><tspan dy="6">]</tspan></text>
<text x="381.5" y="152" font-family="Liberation Sans" font-size="15" fill="#000" font-weight="normal" font-style="normal" text-anchor="middle" transform="rotate(-90 381.5 152)" >log &#931;<tspan font-size="11" dy="5">1kpc</tspan><tspan dy="-5"> [M</tspan><tspan dx="7"> kpc</tspan><tspan font-size="10" dy="-6">&#8722;2</tspan><tspan dy="6">]</tspan></text>
<circle cx="230.6" cy="329" r="2.6" fill="none" stroke="#9a9a9a" stroke-width="0.9"/><circle cx="230.6" cy="329" r="0.8" fill="#333"/>
<circle cx="595.3" cy="329" r="2.6" fill="none" stroke="#9a9a9a" stroke-width="0.9"/><circle cx="595.3" cy="329" r="0.8" fill="#333"/>
<circle cx="17.9" cy="143" r="2.6" fill="none" stroke="#9a9a9a" stroke-width="0.9"/><circle cx="17.9" cy="143" r="0.8" fill="#333"/>
<circle cx="382.9" cy="133.9" r="2.6" fill="none" stroke="#9a9a9a" stroke-width="0.9"/><circle cx="382.9" cy="133.9" r="0.8" fill="#333"/>
</svg></body></html>
